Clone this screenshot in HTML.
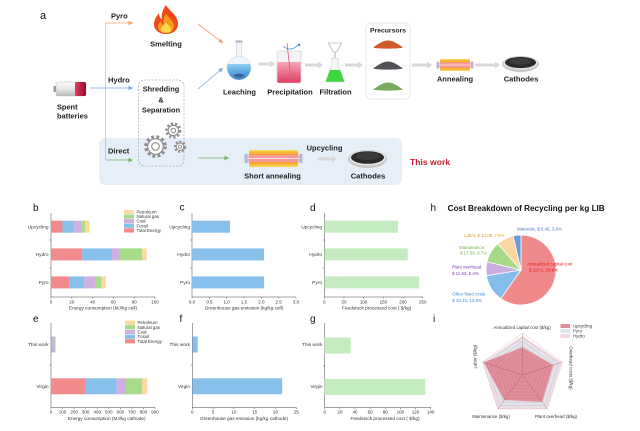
<!DOCTYPE html>
<html><head><meta charset="utf-8"><style>
html,body{margin:0;padding:0;background:#fff;}
svg{display:block;}
text{font-family:"Liberation Sans",Arial,sans-serif;}
.b{font-weight:bold;fill:#222;}
.ax{stroke:#444;stroke-width:0.5;fill:none;}
.tk{font-size:4.5px;fill:#333;text-anchor:middle;}
.cat{font-size:4.8px;fill:#333;text-anchor:end;}
.at{font-size:4.7px;fill:#333;text-anchor:middle;}
.lg{font-size:4.4px;fill:#333;}
.pl{font-size:10px;fill:#111;}
.pie{font-size:4.4px;}
.rl{font-size:4.4px;fill:#333;}
</style></head><body>
<svg width="640" height="431" viewBox="0 0 640 431" xmlns="http://www.w3.org/2000/svg">
<defs>
<marker id="mo" viewBox="0 0 6 6" refX="6" refY="3" markerWidth="4.5" markerHeight="4.5" markerUnits="userSpaceOnUse" orient="auto"><path d="M0,0 L6,3 L0,6 Z" fill="#f0a070"/></marker>
<marker id="mb" viewBox="0 0 6 6" refX="6" refY="3" markerWidth="4.5" markerHeight="4.5" markerUnits="userSpaceOnUse" orient="auto"><path d="M0,0 L6,3 L0,6 Z" fill="#7fa8d4"/></marker>
<marker id="mg" viewBox="0 0 6 6" refX="6" refY="3" markerWidth="4.5" markerHeight="4.5" markerUnits="userSpaceOnUse" orient="auto"><path d="M0,0 L6,3 L0,6 Z" fill="#78b468"/></marker>
<linearGradient id="blueG" x1="0" y1="0" x2="0" y2="1"><stop offset="0" stop-color="#8fd0f4"/><stop offset="1" stop-color="#1e78cc"/></linearGradient>
<linearGradient id="pinkG" x1="0" y1="0" x2="0" y2="1"><stop offset="0" stop-color="#f7a6b8"/><stop offset="1" stop-color="#e03e62"/></linearGradient>
<linearGradient id="batG" x1="0" y1="0" x2="0" y2="1"><stop offset="0" stop-color="#fafafa"/><stop offset="0.5" stop-color="#e6e6e6"/><stop offset="1" stop-color="#b8b8b8"/></linearGradient>
<linearGradient id="batR" x1="0" y1="0" x2="1" y2="0"><stop offset="0" stop-color="#e83a5c"/><stop offset="1" stop-color="#8a1030"/></linearGradient>
<linearGradient id="heatG" x1="0" y1="0" x2="0" y2="1"><stop offset="0" stop-color="#f8dc50"/><stop offset="0.3" stop-color="#f89430"/><stop offset="0.5" stop-color="#e83a30"/><stop offset="0.7" stop-color="#f89430"/><stop offset="1" stop-color="#f8dc50"/></linearGradient>
<clipPath id="flaskC"><circle cx="239" cy="68" r="11.7"/></clipPath>
</defs>

<!-- ============ PANEL A ============ -->
<rect x="99" y="138" width="303" height="47" rx="6" fill="#e6eef8"/>
<text x="40" y="19" class="pl" style="font-size:11px">a</text>

<!-- battery -->
<rect x="53.5" y="86" width="3" height="6" fill="#9a9a9a"/>
<rect x="56" y="82" width="30" height="14" rx="2" fill="url(#batG)" stroke="#b0b0b0" stroke-width="0.4"/>
<rect x="75" y="82" width="11" height="14" rx="1.5" fill="url(#batR)"/>
<text x="57" y="109.6" class="b" style="font-size:7.4px">Spent</text>
<text x="57" y="118.6" class="b" style="font-size:7.4px">batteries</text>

<!-- branching lines -->
<line x1="105.5" y1="23" x2="105.5" y2="88" stroke="#f2b48c" stroke-width="0.7"/>
<line x1="105.5" y1="88" x2="105.5" y2="160" stroke="#b0c8a8" stroke-width="0.7"/>
<line x1="105.5" y1="23" x2="133" y2="23" stroke="#f0a070" stroke-width="0.8" marker-end="url(#mo)"/>
<line x1="90" y1="88" x2="133" y2="88" stroke="#7fa8d4" stroke-width="0.8" marker-end="url(#mb)"/>
<line x1="105.5" y1="160" x2="133" y2="160" stroke="#78b468" stroke-width="0.8" marker-end="url(#mg)"/>
<text x="111" y="18.6" class="b" style="font-size:7.5px">Pyro</text>
<text x="108" y="82.6" class="b" style="font-size:7.5px">Hydro</text>
<text x="108" y="153.6" class="b" style="font-size:7.5px">Direct</text>

<!-- flame -->
<path d="M166,5 C170,12 178,15 178,24 C178,30 173,34 166,34 C159,34 154,30 154,24 C154,19 157,16 159,13 C159,17 161,19 162,19 C161,14 163,9 166,5 Z" fill="#f04a1a"/>
<path d="M166,14 C169,18 174,21 174,26 C174,31 170,33 166,33 C162,33 158,31 158,27 C158,24 160,22 161,21 C161,24 163,25 164,25 C163,21 164,17 166,14 Z" fill="#f89a20"/>
<path d="M166,22 C168,25 171,27 171,29.5 C171,32 169,33 166,33 C163,33 161,32 161,29.5 C161,27 164,25 166,22 Z" fill="#fcd84a"/>
<text x="166" y="46.6" class="b" style="font-size:7.5px" text-anchor="middle">Smelting</text>

<!-- dashed box + gears -->
<rect x="138.5" y="80" width="45.5" height="86" rx="6" fill="none" stroke="#9098a0" stroke-width="0.6" stroke-dasharray="2,1.5"/>
<text x="161" y="91.6" class="b" style="font-size:7.4px" text-anchor="middle">Shredding</text>
<text x="161" y="102.6" class="b" style="font-size:7.4px" text-anchor="middle">&amp;</text>
<text x="161" y="112.6" class="b" style="font-size:7.4px" text-anchor="middle">Separation</text>
<g fill="none" stroke="#8c8c8c">
<circle cx="155.5" cy="146.5" r="9.8" stroke-width="3" stroke-dasharray="2.8,2.4"/>
<circle cx="155.5" cy="146.5" r="7.8" stroke-width="1.2" fill="#fff"/>
<circle cx="155.5" cy="146.5" r="3.8" stroke-width="1.1"/>
<circle cx="173.3" cy="130.5" r="6.8" stroke-width="2.6" stroke-dasharray="2.2,2"/>
<circle cx="173.3" cy="130.5" r="5.2" stroke-width="1.1" fill="#fff"/>
<circle cx="173.3" cy="130.5" r="2.3" stroke-width="1"/>
<circle cx="180" cy="146.7" r="5" stroke-width="2.2" stroke-dasharray="2,1.8"/>
<circle cx="180" cy="146.7" r="3.7" stroke-width="1" fill="#fff"/>
<circle cx="180" cy="146.7" r="1.5" stroke-width="0.9"/>
</g>

<!-- diagonal arrows -->
<line x1="198" y1="24" x2="223" y2="43" stroke="#f0a070" stroke-width="0.8" marker-end="url(#mo)"/>
<line x1="198" y1="89" x2="223" y2="68" stroke="#7fa8d4" stroke-width="0.8" marker-end="url(#mb)"/>
<line x1="198" y1="158" x2="229" y2="158" stroke="#78b468" stroke-width="0.8" marker-end="url(#mg)"/>

<!-- leaching flask -->
<rect x="235.5" y="40.5" width="7" height="2" fill="#aab2bc"/>
<rect x="236.5" y="42.5" width="5" height="15" fill="#f2f6fa" stroke="#c4ccd4" stroke-width="0.5"/>
<circle cx="239" cy="68" r="12" fill="#eef4fa" stroke="#c4ccd4" stroke-width="0.5"/>
<rect x="226" y="64" width="26" height="18" fill="url(#blueG)" clip-path="url(#flaskC)"/>
<ellipse cx="239" cy="75.5" rx="5" ry="1.8" fill="#44608a"/>
<text x="239.5" y="94.6" class="b" style="font-size:7.5px" text-anchor="middle">Leaching</text>

<!-- precipitation beaker -->
<path d="M277 51 H301 V81 Q301 83 299 83 H279 Q277 83 277 81 Z" fill="#f3f3f5" stroke="#c8c8cc" stroke-width="0.5"/>
<path d="M277.3 62 H300.7 V81 Q300.7 82.7 299 82.7 H279 Q277.3 82.7 277.3 81Z" fill="url(#pinkG)"/>
<line x1="287" y1="43" x2="291" y2="80" stroke="#d06080" stroke-width="0.8"/>
<path d="M283 46 Q291 53 299 44" stroke="#3a8ad8" fill="none" stroke-width="0.8"/>
<path d="M299.5 43 L300.5 46.5 L297.3 45.3 Z" fill="#3a8ad8"/>
<text x="290" y="94.6" class="b" style="font-size:7.5px" text-anchor="middle">Precipitation</text>

<!-- filtration -->
<path d="M328.5 43 H341.5 L336.8 52 H333.2 Z" fill="#fff" stroke="#9a9a9a" stroke-width="0.6"/>
<line x1="335" y1="52" x2="335" y2="60" stroke="#9a9a9a" stroke-width="0.8"/>
<path d="M332 58 H338 V65 L344.5 82 H325.5 L332 65 Z" fill="#f6faf6" stroke="#b8c0b8" stroke-width="0.5"/>
<path d="M329.9 70 H340.1 L344.3 81.8 H325.7 Z" fill="#3ed83e"/>
<text x="335.5" y="94.6" class="b" style="font-size:7.5px" text-anchor="middle">Filtration</text>

<!-- gray arrows -->
<g fill="#d6d8dc">
<path d="M258 62.5 H270 V60.5 L275 64 L270 67.5 V65.5 H258Z"/>
<path d="M305 63.5 H318 V61.5 L323 65 L318 68.5 V66.5 H305Z"/>
<path d="M345 63.5 H358 V61.5 L363 65 L358 68.5 V66.5 H345Z"/>
<path d="M412 63.5 H427 V61.5 L432 65 L427 68.5 V66.5 H412Z"/>
<path d="M475 63.5 H495 V61.5 L500 65 L495 68.5 V66.5 H475Z"/>
<path d="M318 157.5 H332 V155.5 L337 159 L332 162.5 V160.5 H318Z"/>
</g>

<!-- precursors -->
<rect x="366" y="23" width="44" height="76" rx="5" fill="#fff" stroke="#e0e0e0" stroke-width="0.7"/>
<text x="388" y="32.4" class="b" style="font-size:6.8px" text-anchor="middle">Precursors</text>
<path d="M373,47.5 C378,44 383,40.5 388,40.5 C393,40.5 398,44 403,47.5 C398,49 378,49 373,47.5Z" fill="#d05a2a"/>
<path d="M373,68.5 C378,65 383,61.5 388,61.5 C393,61.5 398,65 403,68.5 C398,70 378,70 373,68.5Z" fill="#505256"/>
<path d="M373,89.5 C378,86 383,82.5 388,82.5 C393,82.5 398,86 403,89.5 C398,91 378,91 373,89.5Z" fill="#78ac60"/>

<!-- annealing tube -->
<rect x="440" y="59" width="30" height="12" rx="1.5" fill="url(#heatG)"/>
<rect x="437" y="62.5" width="36" height="5" fill="#f4a8b4" opacity="0.8"/>
<line x1="437" y1="65" x2="473" y2="65" stroke="#fbe0e4" stroke-width="0.8"/>
<rect x="436.5" y="61.5" width="2.5" height="7" fill="#b4b8cc"/>
<rect x="471" y="61.5" width="2.5" height="7" fill="#b4b8cc"/>
<text x="455" y="81.6" class="b" style="font-size:7.5px" text-anchor="middle">Annealing</text>

<!-- cathodes top -->
<ellipse cx="520.5" cy="64" rx="18.5" ry="8" fill="#c8c8c8"/>
<ellipse cx="520.5" cy="63" rx="17" ry="6.6" fill="#e6e6e6"/>
<ellipse cx="520.5" cy="62.5" rx="15.5" ry="5.6" fill="#2a2a2a"/>
<ellipse cx="520.5" cy="61.2" rx="11" ry="3.6" fill="#3c3c3c"/>
<text x="521" y="81.6" class="b" style="font-size:7.6px" text-anchor="middle">Cathodes</text>

<!-- short annealing -->
<rect x="249" y="150" width="49" height="17" rx="2" fill="url(#heatG)"/>
<rect x="245" y="155" width="57" height="7" fill="#f4a8b4" opacity="0.8"/>
<line x1="245" y1="158.5" x2="302" y2="158.5" stroke="#fbe0e4" stroke-width="1"/>
<rect x="244.5" y="154" width="3" height="9" fill="#b4b8cc"/>
<rect x="299.5" y="154" width="3" height="9" fill="#b4b8cc"/>
<text x="272.5" y="178.6" class="b" style="font-size:7.5px" text-anchor="middle">Short annealing</text>
<text x="324.5" y="150.6" class="b" style="font-size:7.5px" text-anchor="middle">Upcycling</text>

<!-- cathodes bottom -->
<ellipse cx="367.5" cy="159" rx="19.5" ry="9" fill="#c8c8c8"/>
<ellipse cx="367.5" cy="158" rx="18" ry="7.5" fill="#e6e6e6"/>
<ellipse cx="367.5" cy="157.5" rx="16.5" ry="6.3" fill="#2a2a2a"/>
<ellipse cx="367.5" cy="156" rx="12" ry="4" fill="#3a3a3a"/>
<text x="368" y="178.6" class="b" style="font-size:7.6px" text-anchor="middle">Cathodes</text>
<text x="410" y="165" style="font-size:8.6px;font-weight:bold;fill:#c0202e">This work</text>

<!-- ============ PANEL B ============ -->
<text x="33" y="211" class="pl">b</text>
<line x1="51" y1="213" x2="51" y2="297" class="ax"/>
<line x1="51" y1="297" x2="155" y2="297" class="ax"/>
<line x1="49.5" y1="240" x2="51" y2="240" class="ax"/><line x1="49.5" y1="268" x2="51" y2="268" class="ax"/>
<g class="ax"><line x1="51" y1="297" x2="51" y2="298.5"/><line x1="71.8" y1="297" x2="71.8" y2="298.5"/><line x1="92.6" y1="297" x2="92.6" y2="298.5"/><line x1="113.4" y1="297" x2="113.4" y2="298.5"/><line x1="134.2" y1="297" x2="134.2" y2="298.5"/><line x1="155" y1="297" x2="155" y2="298.5"/></g>
<g class="tk"><text x="51" y="303.4">0</text><text x="71.8" y="303.4">20</text><text x="92.6" y="303.4">40</text><text x="113.4" y="303.4">60</text><text x="134.2" y="303.4">80</text><text x="155" y="303.4">100</text></g>
<g class="cat"><text x="48.5" y="228.3">Upcycling</text><text x="48.5" y="256">Hydro</text><text x="48.5" y="284">Pyro</text></g>
<text x="103" y="309.5" class="at">Energy consumption (MJ/kg cell)</text>
<!-- bars -->
<rect x="51" y="220.7" width="11.44" height="12" fill="#f28b8b"/>
<rect x="62.44" y="220.7" width="11.44" height="12" fill="#88c0ec"/>
<rect x="73.88" y="220.7" width="7.28" height="12" fill="#cfb0e0"/>
<rect x="81.16" y="220.7" width="4.16" height="12" fill="#a8dc88"/>
<rect x="85.32" y="220.7" width="4.16" height="12" fill="#fbd9a0"/>
<rect x="51" y="248.4" width="31.2" height="12" fill="#f28b8b"/>
<rect x="82.2" y="248.4" width="29.74" height="12" fill="#88c0ec"/>
<rect x="111.94" y="248.4" width="7.08" height="12" fill="#cfb0e0"/>
<rect x="119.02" y="248.4" width="23.3" height="12" fill="#a8dc88"/>
<rect x="142.31" y="248.4" width="4.37" height="12" fill="#fbd9a0"/>
<rect x="51" y="276.4" width="18.3" height="12" fill="#f28b8b"/>
<rect x="69.3" y="276.4" width="14.98" height="12" fill="#88c0ec"/>
<rect x="84.28" y="276.4" width="10.71" height="12" fill="#cfb0e0"/>
<rect x="94.99" y="276.4" width="6.66" height="12" fill="#a8dc88"/>
<rect x="101.65" y="276.4" width="4.06" height="12" fill="#fbd9a0"/>
<!-- legend -->
<rect x="124" y="209.9" width="10" height="4.2" fill="#fbd9a0"/><text x="136.5" y="213.5" class="lg">Petroleum</text>
<rect x="124" y="214.5" width="10" height="4.2" fill="#a8dc88"/><text x="136.5" y="218.1" class="lg">Natural gas</text>
<rect x="124" y="219.1" width="10" height="4.2" fill="#cfb0e0"/><text x="136.5" y="222.7" class="lg">Coal</text>
<rect x="124" y="223.7" width="10" height="4.2" fill="#88c0ec"/><text x="136.5" y="227.3" class="lg">Fossil</text>
<rect x="124" y="228.3" width="10" height="4.2" fill="#f28b8b"/><text x="136.5" y="231.9" class="lg">Total Energy</text>

<!-- ============ PANEL C ============ -->
<text x="179.5" y="210.5" class="pl">c</text>
<line x1="192" y1="213" x2="192" y2="297" class="ax"/>
<line x1="192" y1="297" x2="296" y2="297" class="ax"/>
<line x1="190.5" y1="240" x2="192" y2="240" class="ax"/><line x1="190.5" y1="268" x2="192" y2="268" class="ax"/>
<g class="ax"><line x1="192" y1="297" x2="192" y2="298.5"/><line x1="209.33" y1="297" x2="209.33" y2="298.5"/><line x1="226.67" y1="297" x2="226.67" y2="298.5"/><line x1="244" y1="297" x2="244" y2="298.5"/><line x1="261.33" y1="297" x2="261.33" y2="298.5"/><line x1="278.67" y1="297" x2="278.67" y2="298.5"/><line x1="296" y1="297" x2="296" y2="298.5"/></g>
<g class="tk"><text x="192" y="303.4">0.0</text><text x="209.33" y="303.4">0.5</text><text x="226.67" y="303.4">1.0</text><text x="244" y="303.4">1.5</text><text x="261.33" y="303.4">2.0</text><text x="278.67" y="303.4">2.5</text><text x="296" y="303.4">3.0</text></g>
<g class="cat"><text x="190" y="228.3">Upcycling</text><text x="190" y="256">Hydro</text><text x="190" y="284">Pyro</text></g>
<text x="244" y="309.5" class="at">Greenhouse gas emission (kg/kg cell)</text>
<rect x="192" y="220.7" width="38.1" height="12" fill="#88c0ec"/>
<rect x="192" y="248.4" width="72.1" height="12" fill="#88c0ec"/>
<rect x="192" y="276.4" width="72.1" height="12" fill="#88c0ec"/>

<!-- ============ PANEL D ============ -->
<text x="310" y="211" class="pl">d</text>
<line x1="324.3" y1="213" x2="324.3" y2="297" class="ax"/>
<line x1="324.3" y1="297" x2="423" y2="297" class="ax"/>
<line x1="322.8" y1="240" x2="324.3" y2="240" class="ax"/><line x1="322.8" y1="268" x2="324.3" y2="268" class="ax"/>
<g class="ax"><line x1="324.3" y1="297" x2="324.3" y2="298.5"/><line x1="343.98" y1="297" x2="343.98" y2="298.5"/><line x1="363.66" y1="297" x2="363.66" y2="298.5"/><line x1="383.34" y1="297" x2="383.34" y2="298.5"/><line x1="403.02" y1="297" x2="403.02" y2="298.5"/><line x1="422.7" y1="297" x2="422.7" y2="298.5"/></g>
<g class="tk"><text x="324.3" y="303.4">0</text><text x="343.98" y="303.4">50</text><text x="363.66" y="303.4">100</text><text x="383.34" y="303.4">150</text><text x="403.02" y="303.4">200</text><text x="422.7" y="303.4">250</text></g>
<g class="cat"><text x="322" y="228.3">Upcycling</text><text x="322" y="256">Hydro</text><text x="322" y="284">Pyro</text></g>
<text x="376.7" y="309.5" class="at">Feedstock processed cost ( $/kg)</text>
<rect x="324.3" y="220.7" width="73.6" height="12" fill="#c4ecc0"/>
<rect x="324.3" y="248.4" width="83.4" height="12" fill="#c4ecc0"/>
<rect x="324.3" y="276.4" width="94.9" height="12" fill="#c4ecc0"/>

<!-- ============ PANEL E ============ -->
<text x="33" y="322" class="pl">e</text>
<line x1="51" y1="323" x2="51" y2="407.5" class="ax"/>
<line x1="51" y1="407.5" x2="155" y2="407.5" class="ax"/>
<line x1="49.5" y1="365" x2="51" y2="365" class="ax"/>
<g class="ax"><line x1="51" y1="407.5" x2="51" y2="409"/><line x1="62.56" y1="407.5" x2="62.56" y2="409"/><line x1="74.11" y1="407.5" x2="74.11" y2="409"/><line x1="85.67" y1="407.5" x2="85.67" y2="409"/><line x1="97.22" y1="407.5" x2="97.22" y2="409"/><line x1="108.78" y1="407.5" x2="108.78" y2="409"/><line x1="120.33" y1="407.5" x2="120.33" y2="409"/><line x1="131.89" y1="407.5" x2="131.89" y2="409"/><line x1="143.44" y1="407.5" x2="143.44" y2="409"/><line x1="155" y1="407.5" x2="155" y2="409"/></g>
<g class="tk"><text x="51" y="413.3">0</text><text x="62.56" y="413.3">100</text><text x="74.11" y="413.3">200</text><text x="85.67" y="413.3">300</text><text x="97.22" y="413.3">400</text><text x="108.78" y="413.3">500</text><text x="120.33" y="413.3">600</text><text x="131.89" y="413.3">700</text><text x="143.44" y="413.3">800</text><text x="155" y="413.3">900</text></g>
<g class="cat"><text x="48.5" y="346">This work</text><text x="48.5" y="388">Virgin</text></g>
<text x="106.7" y="420" class="at">Energy consumption (MJ/kg cathode)</text>
<rect x="51" y="336.5" width="0.4" height="16" fill="#f28b8b"/>
<rect x="51.4" y="336.5" width="1" height="16" fill="#88c0ec"/>
<rect x="52.4" y="336.5" width="2.1" height="16" fill="#cfb0e0"/>
<rect x="54.5" y="336.5" width="0.5" height="16" fill="#a8dc88"/>
<rect x="55" y="336.5" width="0.9" height="16" fill="#fbd9a0"/>
<rect x="51" y="378.3" width="33.97" height="16" fill="#f28b8b"/>
<rect x="84.97" y="378.3" width="31.67" height="16" fill="#88c0ec"/>
<rect x="116.64" y="378.3" width="9.36" height="16" fill="#cfb0e0"/>
<rect x="126" y="378.3" width="16.29" height="16" fill="#a8dc88"/>
<rect x="142.29" y="378.3" width="4.97" height="16" fill="#fbd9a0"/>
<rect x="125" y="320.6" width="10" height="4.2" fill="#fbd9a0"/><text x="137.5" y="324.2" class="lg">Petroleum</text>
<rect x="125" y="325.2" width="10" height="4.2" fill="#a8dc88"/><text x="137.5" y="328.8" class="lg">Natural gas</text>
<rect x="125" y="329.9" width="10" height="4.2" fill="#cfb0e0"/><text x="137.5" y="333.5" class="lg">Coal</text>
<rect x="125" y="334.6" width="10" height="4.2" fill="#88c0ec"/><text x="137.5" y="338.2" class="lg">Fossil</text>
<rect x="125" y="339.2" width="10" height="4.2" fill="#f28b8b"/><text x="137.5" y="342.8" class="lg">Total Energy</text>

<!-- ============ PANEL F ============ -->
<text x="179.5" y="322" class="pl">f</text>
<line x1="192.3" y1="323" x2="192.3" y2="407.5" class="ax"/>
<line x1="192.3" y1="407.5" x2="296.3" y2="407.5" class="ax"/>
<line x1="190.8" y1="365" x2="192.3" y2="365" class="ax"/>
<g class="ax"><line x1="192.3" y1="407.5" x2="192.3" y2="409"/><line x1="213.1" y1="407.5" x2="213.1" y2="409"/><line x1="233.9" y1="407.5" x2="233.9" y2="409"/><line x1="254.7" y1="407.5" x2="254.7" y2="409"/><line x1="275.5" y1="407.5" x2="275.5" y2="409"/><line x1="296.3" y1="407.5" x2="296.3" y2="409"/></g>
<g class="tk"><text x="192.3" y="413.3">0</text><text x="213.1" y="413.3">5</text><text x="233.9" y="413.3">10</text><text x="254.7" y="413.3">15</text><text x="275.5" y="413.3">20</text><text x="296.3" y="413.3">25</text></g>
<g class="cat"><text x="190" y="346">This work</text><text x="190" y="388">Virgin</text></g>
<text x="244" y="420" class="at">Greenhouse gas emission (kg/kg cathode)</text>
<rect x="192.3" y="336.5" width="5.4" height="16" fill="#88c0ec"/>
<rect x="192.3" y="378.3" width="89.9" height="16" fill="#88c0ec"/>

<!-- ============ PANEL G ============ -->
<text x="310" y="322" class="pl">g</text>
<line x1="324.7" y1="323" x2="324.7" y2="407.5" class="ax"/>
<line x1="324.7" y1="407.5" x2="431" y2="407.5" class="ax"/>
<line x1="323.2" y1="366" x2="324.7" y2="366" class="ax"/>
<g class="ax"><line x1="324.7" y1="407.5" x2="324.7" y2="409"/><line x1="339.84" y1="407.5" x2="339.84" y2="409"/><line x1="354.98" y1="407.5" x2="354.98" y2="409"/><line x1="370.12" y1="407.5" x2="370.12" y2="409"/><line x1="385.26" y1="407.5" x2="385.26" y2="409"/><line x1="400.4" y1="407.5" x2="400.4" y2="409"/><line x1="415.54" y1="407.5" x2="415.54" y2="409"/><line x1="430.68" y1="407.5" x2="430.68" y2="409"/></g>
<g class="tk"><text x="324.7" y="413.3">0</text><text x="339.84" y="413.3">20</text><text x="354.98" y="413.3">40</text><text x="370.12" y="413.3">60</text><text x="385.26" y="413.3">80</text><text x="400.4" y="413.3">100</text><text x="415.54" y="413.3">120</text><text x="430.68" y="413.3">140</text></g>
<g class="cat"><text x="322.5" y="346">This work</text><text x="322.5" y="388">Virgin</text></g>
<text x="385" y="420" class="at">Feedstock processed cost ( $/kg)</text>
<rect x="324.7" y="337.5" width="26" height="16" fill="#c4ecc0"/>
<rect x="324.7" y="379" width="100.5" height="16" fill="#c4ecc0"/>

<!-- ============ PANEL H ============ -->
<text x="430.5" y="211" class="pl">h</text>
<text x="447.7" y="210.8" style="font-size:8px;font-weight:bold;fill:#111" textLength="157" lengthAdjust="spacingAndGlyphs">Cost Breakdown of Recycling per kg LIB</text>
<g stroke="#fff" stroke-width="0.8">
<path d="M521,270 L521,235 A35,35 0 1 1 500.78,298.57 Z" fill="#f08a8a"/>
<path d="M521,270 L500.78,298.57 A35,35 0 0 1 486.47,275.69 Z" fill="#84bcea"/>
<path d="M521,270 L486.47,275.69 A35,35 0 0 1 486.99,261.72 Z" fill="#cbaedf"/>
<path d="M521,270 L486.99,261.72 A35,35 0 0 1 497.85,243.75 Z" fill="#a8d888"/>
<path d="M521,270 L497.85,243.75 A35,35 0 0 1 513.15,235.89 Z" fill="#fad6a0"/>
<path d="M521,270 L513.15,235.89 A35,35 0 0 1 521,235 Z" fill="#6f9ad8"/>
</g>
<text x="517" y="230.5" class="pie" style="fill:#4a74c0">Materials, $ 6.45, 3.6%</text>
<text x="464" y="237" class="pie" style="fill:#d8a020">Labor, $ 14.08, 7.9%</text>
<text x="459" y="249" class="pie" style="fill:#70b040">Maintenance</text>
<text x="460" y="254.5" class="pie" style="fill:#70b040">$ 17.09, 9.7%</text>
<text x="451.7" y="268.5" class="pie" style="fill:#8040b0">Plant overhead</text>
<text x="452" y="275" class="pie" style="fill:#8040b0">$ 11.63, 6.4%</text>
<text x="452.3" y="295.5" class="pie" style="fill:#3a88d8">Other fixed costs</text>
<text x="452.3" y="302" class="pie" style="fill:#3a88d8">$ 23.15, 12.6%</text>
<text x="527.3" y="265.5" class="pie" style="fill:#e01818">Annualized capital cost</text>
<text x="529" y="271.5" class="pie" style="fill:#e01818">$ 110.2, 59.8%</text>

<!-- ============ PANEL I ============ -->
<text x="433" y="322" class="pl">i</text>
<polygon points="522.5,335.94 561.65,362.28 547.19,408.98 497.81,408.98 482.55,362.02" fill="#f6d6dd"/>
<polygon points="522.5,338.04 559.65,362.93 545.95,407.28 499.05,407.28 483.35,362.28" fill="#e2e4ec"/>
<polygon points="522.5,347.28 553.26,365.01 542.0,401.84 504.23,400.14 483.75,362.41" fill="#e28e9a"/>
<g fill="none" stroke="#b05868" stroke-width="0.35" opacity="0.45">
<polygon points="522.5,370.8 526.49,373.70 524.97,378.40 520.03,378.40 518.51,373.70"/>
<polygon points="522.5,366.6 530.49,372.40 527.44,381.80 517.56,381.80 514.51,372.40"/>
<polygon points="522.5,362.4 534.48,371.11 529.91,385.19 515.09,385.19 510.52,371.11"/>
<polygon points="522.5,358.2 538.48,369.81 532.38,388.59 512.62,388.59 506.52,369.81"/>
<polygon points="522.5,354 542.47,368.51 534.84,391.99 510.16,391.99 502.53,368.51"/>
<polygon points="522.5,349.8 546.47,367.21 537.31,395.39 507.69,395.39 498.53,367.21"/>
<polygon points="522.5,345.6 550.46,365.92 539.78,398.78 505.22,398.78 494.54,365.92"/>
<polygon points="522.5,341.4 554.46,364.62 542.25,402.18 502.75,402.18 490.54,364.62"/>
<polygon points="522.5,337.2 558.45,363.32 544.72,405.58 500.28,405.58 486.55,363.32"/>
</g>
<polygon points="522.5,333 562.45,362.02 547.19,408.98 497.81,408.98 482.55,362.02" fill="none" stroke="#d8b8c0" stroke-width="0.4"/>
<g stroke="#8a4050" stroke-width="0.4" opacity="0.6">
<line x1="522.5" y1="375" x2="522.5" y2="333"/>
<line x1="522.5" y1="375" x2="562.45" y2="362.02"/>
<line x1="522.5" y1="375" x2="547.19" y2="408.98"/>
<line x1="522.5" y1="375" x2="497.81" y2="408.98"/>
<line x1="522.5" y1="375" x2="482.55" y2="362.02"/>
</g>
<text x="522" y="329" class="rl" text-anchor="middle">Annualized capital cost ($/kg)</text>
<text transform="translate(569.5,368) rotate(90)" class="rl" text-anchor="middle">Overhead costs ($/kg)</text>
<text x="556" y="418" class="rl" text-anchor="middle">Plant overhead ($/kg)</text>
<text x="491" y="418" class="rl" text-anchor="middle">Maintenance ($/kg)</text>
<text transform="translate(476.5,356.7) rotate(-90)" class="rl" text-anchor="middle">Labor ($/kg)</text>
<rect x="560.5" y="324" width="9.5" height="4" fill="#e28e9a"/><text x="573" y="327.5" class="rl">Upcycling</text>
<rect x="560.5" y="329" width="9.5" height="4" fill="#dfe6ee"/><text x="573" y="332.5" class="rl">Pyro</text>
<rect x="560.5" y="334" width="9.5" height="4" fill="#f6d6dd"/><text x="573" y="337.5" class="rl">Hydro</text>
</svg>
</body></html>
